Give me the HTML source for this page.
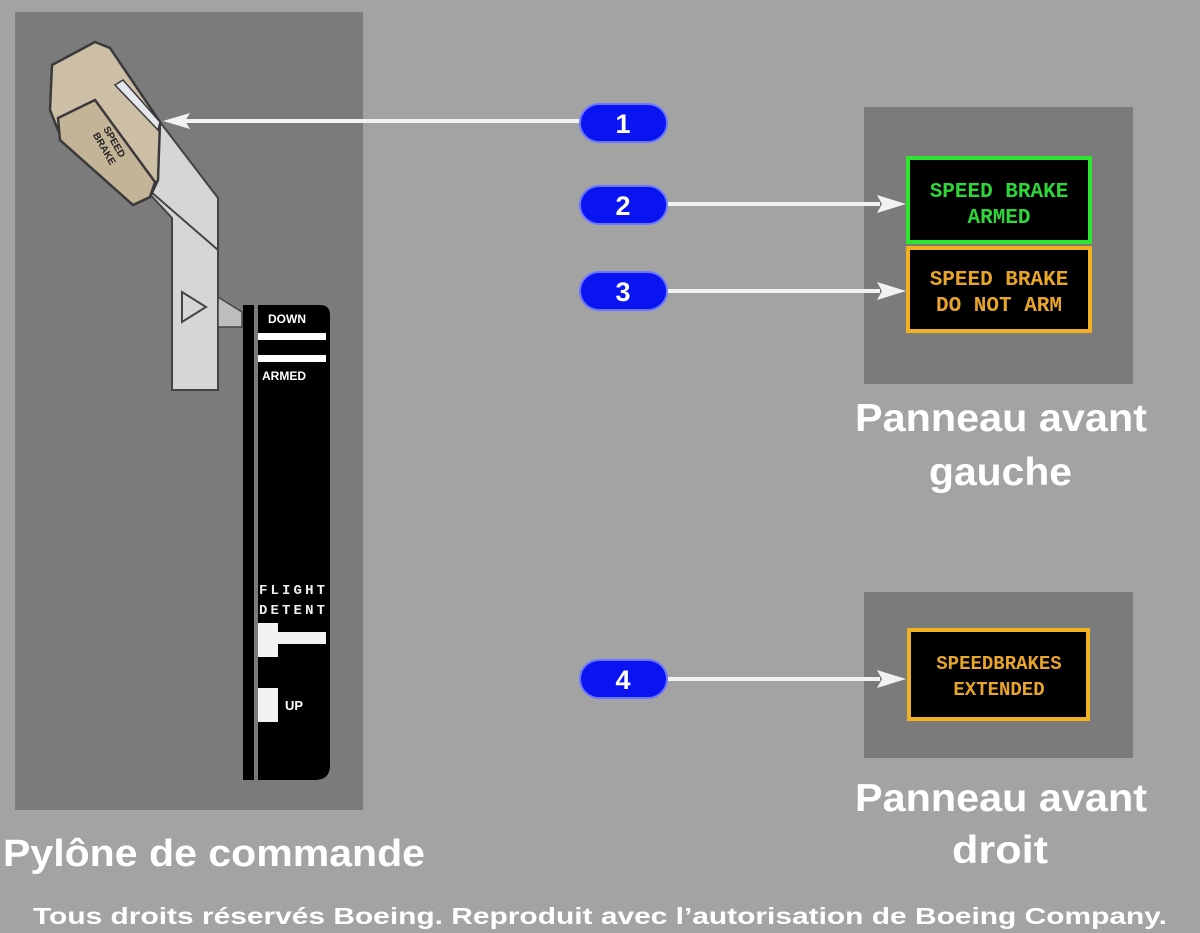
<!DOCTYPE html>
<html><head><meta charset="utf-8"><style>
html,body{margin:0;padding:0;background:#a3a3a3;}
svg{display:block}
.t{font-family:"Liberation Sans",sans-serif;font-weight:bold;fill:#fff}
.m{font-family:"Liberation Mono",monospace;font-weight:bold}
</style></head><body>
<svg width="1200" height="933" viewBox="0 0 1200 933" xmlns="http://www.w3.org/2000/svg">
<rect width="1200" height="933" fill="#a3a3a3"/>
<rect x="15" y="12" width="348" height="798" fill="#7b7b7b"/>
<rect x="864" y="107" width="269" height="277" fill="#7b7b7b"/>
<rect x="864" y="592" width="269" height="166" fill="#7b7b7b"/>

<!-- lever arm -->
<polygon points="115,85 160,122 218,198 218,390 172,390 172,218 118,160" fill="#d6d6d6" stroke="#444" stroke-width="2"/>
<polygon points="218,297 242,312 242,327 218,327" fill="#bdbdbd" stroke="#444" stroke-width="1.5"/>
<polygon points="182,292 206,307 182,322" fill="none" stroke="#444" stroke-width="2"/>
<line x1="120" y1="165" x2="218" y2="250" stroke="#444" stroke-width="2"/>
<!-- handle -->
<polygon points="52,65 95,42 110,48 160,122 158,180 150,197 133,205 62,140 50,110" fill="#cdbfa6" stroke="#3a3a3a" stroke-width="2.5"/>
<polygon points="115,85 123,80 160,122 158,130" fill="#e6e6ee" stroke="#3a3a3a" stroke-width="1.5"/>
<polygon points="58,118 95,100 155,182 150,197 133,205 60,140" fill="#c4b497" stroke="#3a3a3a" stroke-width="2.5"/>
<text x="85" y="130" class="t" font-size="10" style="fill:#222" transform="rotate(60 95 145)">SPEED</text>
<text x="85" y="142" class="t" font-size="10" style="fill:#222" transform="rotate(60 95 145)">BRAKE</text>

<!-- scale -->
<rect x="243" y="305" width="11" height="475" fill="#000"/>
<path d="M258,305 H320 Q330,305 330,315 V765 Q330,780 315,780 H258 Z" fill="#000"/>
<rect x="258" y="333" width="68" height="7" fill="#fff"/>
<rect x="258" y="355" width="68" height="7" fill="#fff"/>
<text x="268" y="323" class="t" font-size="12">DOWN</text>
<text x="262" y="380" class="t" font-size="12">ARMED</text>
<text x="259" y="594" class="m" font-size="14" fill="#eee" textLength="66">FLIGHT</text>
<text x="259" y="614" class="m" font-size="14" fill="#eee" textLength="66">DETENT</text>
<rect x="258" y="623" width="20" height="34" fill="#f2f2f2"/>
<rect x="278" y="632" width="48" height="12" fill="#f2f2f2"/>
<rect x="258" y="688" width="20" height="34" fill="#f2f2f2"/>
<text x="285" y="710" class="t" font-size="13">UP</text>

<!-- arrows -->
<g stroke="#f2f2f2" stroke-width="4">
<line x1="580" y1="121" x2="180" y2="121"/>
<line x1="667" y1="204" x2="880" y2="204"/>
<line x1="667" y1="291" x2="880" y2="291"/>
<line x1="667" y1="679" x2="880" y2="679"/>
</g>
<g fill="#f2f2f2">
<polygon points="163,121 190,113 185,121 190,129"/>
<polygon points="906,204 877,195 882,204 877,213"/>
<polygon points="906,291 877,282 882,291 877,300"/>
<polygon points="906,679 877,670 882,679 877,688"/>
</g>

<!-- badges -->
<g fill="#0a14f0" stroke="#6a76ff" stroke-width="2">
<rect x="580" y="104" width="87" height="38" rx="19"/>
<rect x="580" y="186" width="87" height="38" rx="19"/>
<rect x="580" y="272" width="87" height="38" rx="19"/>
<rect x="580" y="660" width="87" height="38" rx="19"/>
</g>
<g class="t" font-size="27" text-anchor="middle">
<text x="623" y="133">1</text>
<text x="623" y="215">2</text>
<text x="623" y="301">3</text>
<text x="623" y="689">4</text>
</g>

<!-- annunciators -->
<rect x="908" y="158" width="182" height="84" fill="#000" stroke="#2ee62e" stroke-width="4"/>
<rect x="908" y="248" width="182" height="83" fill="#000" stroke="#f0b020" stroke-width="4"/>
<rect x="909" y="630" width="179" height="89" fill="#000" stroke="#f0b020" stroke-width="4"/>
<g class="m" font-size="21" text-anchor="middle">
<text x="999" y="197" fill="#2ed63a">SPEED BRAKE</text>
<text x="999" y="223" fill="#2ed63a">ARMED</text>
<text x="999" y="285" fill="#e8a52a">SPEED BRAKE</text>
<text x="999" y="311" fill="#e8a52a">DO NOT ARM</text>
<text x="999" y="669" fill="#e8a52a" font-size="19">SPEEDBRAKES</text>
<text x="999" y="695" fill="#e8a52a" font-size="19">EXTENDED</text>
</g>

<!-- labels -->
<g class="t" font-size="39">
<text x="855" y="431" textLength="292" lengthAdjust="spacingAndGlyphs">Panneau avant</text>
<text x="929" y="485" textLength="143" lengthAdjust="spacingAndGlyphs">gauche</text>
<text x="855" y="811" textLength="292" lengthAdjust="spacingAndGlyphs">Panneau avant</text>
<text x="952" y="863" textLength="96" lengthAdjust="spacingAndGlyphs">droit</text>
</g>
<text x="3" y="866" class="t" font-size="38" textLength="422" lengthAdjust="spacingAndGlyphs">Pylône de commande</text>
<text x="33" y="924" class="t" font-size="23" textLength="1134" lengthAdjust="spacingAndGlyphs">Tous droits réservés Boeing. Reproduit avec l’autorisation de Boeing Company.</text>
</svg>
</body></html>
